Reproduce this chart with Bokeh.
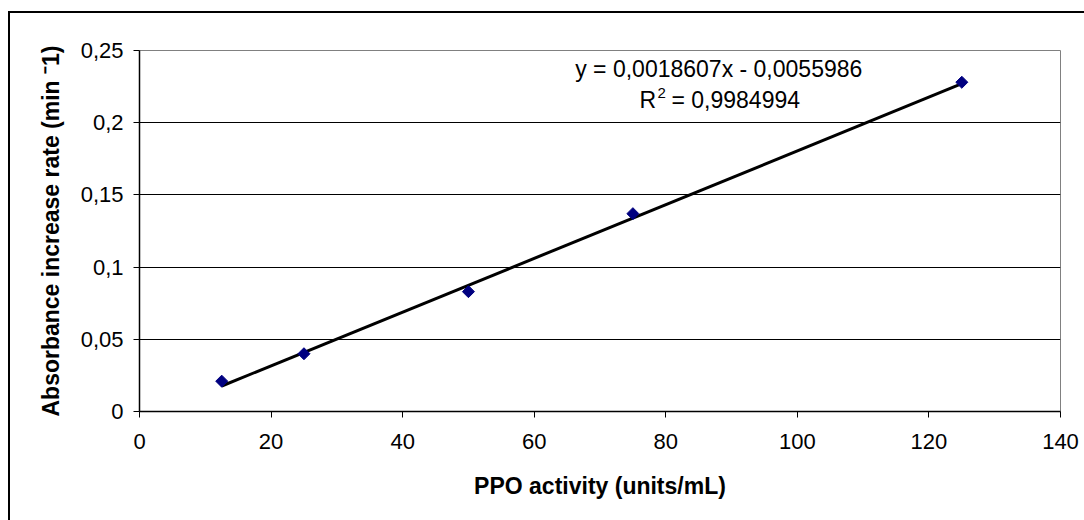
import math
from bokeh.plotting import figure
from bokeh.models import FixedTicker, Range1d
from bokeh.core.properties import value
from bokeh.embed import file_html
from bokeh.resources import INLINE

# data
ppo_activity = [12.5, 25, 50, 75, 125]
absorbance_rate = [0.021, 0.040, 0.083, 0.137, 0.228]
slope = 0.0018607
intercept = -0.0055986
r_squared_text = "0,9984994"
x_ticks = [0, 20, 40, 60, 80, 100, 120, 140]
y_ticks = [0, 0.05, 0.1, 0.15, 0.2, 0.25]
y_tick_labels = ["0", "0,05", "0,1", "0,15", "0,2", "0,25"]

FONT = "Liberation Sans"

p = figure(width=1074, height=507, output_backend="svg", toolbar_location=None,
           x_range=Range1d(0, 140), y_range=Range1d(0, 0.25),
           min_border_left=129, min_border_right=26, min_border_top=37, min_border_bottom=111)
p.margin = (11, 0, 0, 8)
p.styles = {"border-left": "2px solid black", "border-top": "2px solid black", "box-sizing": "content-box"}

p.background_fill_color = "white"
p.border_fill_color = "white"
p.outline_line_color = "#808080"
p.outline_line_width = 1

# grid
p.xgrid.grid_line_color = None
p.ygrid.grid_line_color = "black"
p.ygrid.grid_line_width = 1
p.ygrid.ticker = FixedTicker(ticks=y_ticks)

# x axis
p.xaxis.ticker = FixedTicker(ticks=x_ticks)
p.xaxis.axis_label = "PPO activity (units/mL)"
p.xaxis.axis_line_color = "black"
p.xaxis.axis_line_width = 1.5
p.xaxis.major_tick_line_color = "black"
p.xaxis.major_tick_out = 6
p.xaxis.major_tick_in = 0
p.xaxis.minor_tick_line_color = None
p.xaxis.major_label_text_font = FONT
p.xaxis.major_label_text_font_size = "22px"
p.xaxis.major_label_text_color = "black"
p.xaxis.major_label_standoff = 16
p.xaxis.axis_label_text_font = FONT
p.xaxis.axis_label_text_font_size = "23px"
p.xaxis.axis_label_text_font_style = "bold"
p.xaxis.axis_label_text_color = "black"
p.xaxis.axis_label_standoff = 21

# y axis
p.yaxis.ticker = FixedTicker(ticks=y_ticks)
p.yaxis.major_label_overrides = {t: l for t, l in zip(y_ticks, y_tick_labels)}
p.yaxis.axis_label = "Absorbance increase rate (min \u207b1)"
p.yaxis.axis_line_color = "black"
p.yaxis.axis_line_width = 1.5
p.yaxis.major_tick_line_color = "black"
p.yaxis.major_tick_out = 6
p.yaxis.major_tick_in = 0
p.yaxis.minor_tick_line_color = None
p.yaxis.major_label_text_font = FONT
p.yaxis.major_label_text_font_size = "22px"
p.yaxis.major_label_text_color = "black"
p.yaxis.major_label_standoff = 10
p.yaxis.axis_label_text_font = FONT
p.yaxis.axis_label_text_font_size = "23px"
p.yaxis.axis_label_text_font_style = "bold"
p.yaxis.axis_label_text_color = "black"
p.yaxis.axis_label_standoff = 14

# trendline
x0, x1 = min(ppo_activity), max(ppo_activity)
p.line([x0, x1], [slope * x0 + intercept, slope * x1 + intercept], line_color="black", line_width=3)

# points
p.scatter(ppo_activity, absorbance_rate, marker="square", angle=math.pi / 4, size=8.5,
          fill_color="#000080", line_color="#000080")

# equation
eq1 = "y = " + f"{slope:.7f}".replace(".", ",") + "x - " + f"{-intercept:.7f}".replace(".", ",")
p.text(x=[88.05], y=[0.2375], text=[eq1],
       text_font=value(FONT), text_font_size="23px", text_color="black",
       text_align="center", text_baseline="middle")
# R^2 line: "R", superscript "2", rest
p.text(x=[76.0, 76.0], y=[0.2155, 0.2155], text=["R", "= " + r_squared_text],
       x_offset=[0, 32], text_font=value(FONT), text_font_size="23px", text_color="black",
       text_align="left", text_baseline="middle")
p.text(x=[76.0], y=[0.2155], text=["2"], x_offset=[18], y_offset=[-7],
       text_font=value(FONT), text_font_size="15px", text_color="black",
       text_align="left", text_baseline="middle")

open("out.html", "w").write(file_html(p, INLINE))
